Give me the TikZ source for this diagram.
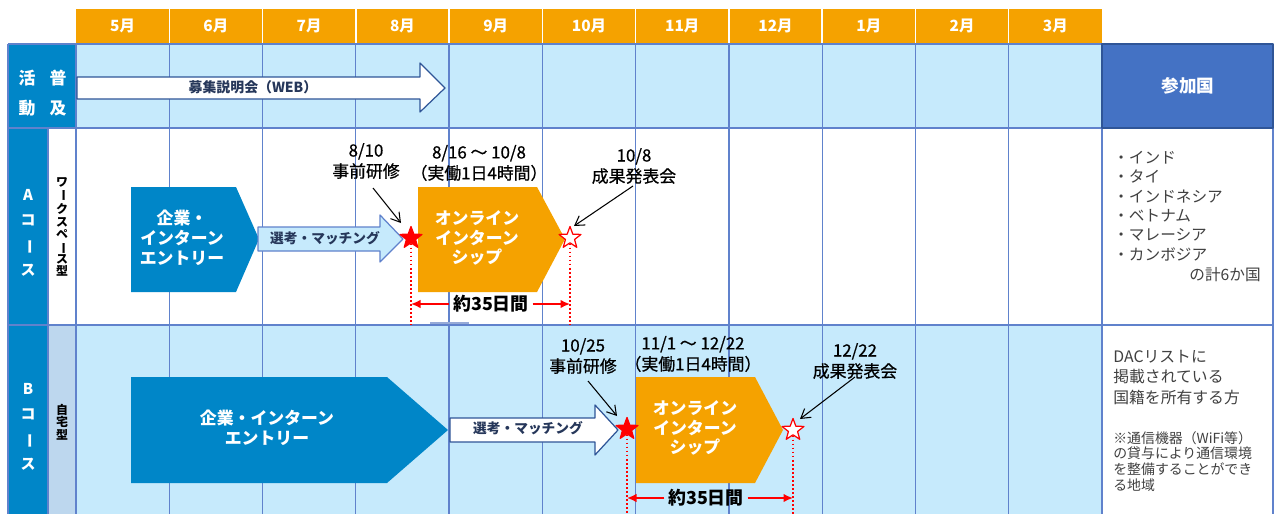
\documentclass[tikz,border=0pt]{standalone}
\usepackage{fontspec}
\setmainfont{Noto Sans CJK JP}
\newfontfamily\medfont{Noto Sans CJK JP}[FakeBold=0.7]
\usetikzlibrary{arrows.meta,shapes.geometric}
\definecolor{hdrorange}{RGB}{245,162,0}
\definecolor{cellblue}{RGB}{0,134,200}
\definecolor{paleblue}{RGB}{198,234,252}
\definecolor{gridblue}{RGB}{96,130,204}
\definecolor{headblue}{RGB}{68,114,196}
\definecolor{navyline}{RGB}{47,85,151}
\definecolor{navytxt}{RGB}{38,55,90}
\definecolor{grayblue}{RGB}{189,215,238}
\definecolor{txtgray}{RGB}{64,64,64}
\newcommand{\tatebo}{\rotatebox[origin=c]{-90}{ー}}

\begin{document}
\begin{tikzpicture}[x=0.02cm,y=-0.02cm,line join=round,
  gridline/.style={draw=gridblue,line width=0.7pt},
  wtxt/.style={text=white,font=\bfseries\fontsize{9.6}{11.3}\selectfont,align=center,inner sep=0pt},
  datelbl/.style={font=\medfont\fontsize{9.6}{11.9}\selectfont,align=center,inner sep=0pt},
  seltxt/.style={text=navytxt,font=\bfseries\fontsize{7.8}{9}\selectfont,inner sep=0pt},
  durtxt/.style={font=\bfseries\fontsize{10.2}{12}\selectfont,inner sep=2pt},
  callout/.style={-{Straight Barb[length=1.8mm,width=2.2mm]},line width=0.6pt},
  durarrow/.style={red,line width=0.9pt,-{Latex[length=1.9mm,width=1.7mm]}},
  dotline/.style={red,line width=1.1pt,dash pattern=on 1pt off 1.3pt},
  starfull/.style={star,star points=5,star point ratio=2.4,minimum size=0.46cm,inner sep=0pt,fill=red,draw=red,line width=0.7pt},
  starhollow/.style={starfull,fill=white},
  blockarr/.style={line width=0.7pt}]
\useasboundingbox (0,0) rectangle (1275,514);
% backgrounds
\fill[hdrorange] (76,9) rectangle (1102,44);
\fill[paleblue] (76,44) rectangle (1102,128);
\fill[white] (76,128) rectangle (1102,325);
\fill[paleblue] (76,325) rectangle (1102,514);
\fill[cellblue] (8,44) rectangle (76,128);
\fill[cellblue] (8,128) rectangle (48,514);
\fill[grayblue] (48,325) rectangle (76,514);
\fill[headblue] (1102,44) rectangle (1273,128);
\foreach \i in {1,...,10}
  \draw[white,line width=0.8pt] ({76+93.27*\i},9) -- ({76+93.27*\i},44);
% grid
\foreach \i in {0,...,11}
  \draw[gridline] ({76+93.27*\i},44) -- ({76+93.27*\i},514);
\draw[gridline] (8,44) -- (8,514);
\draw[gridline] (48,128) -- (48,514);
\draw[gridline] (1273,44) -- (1273,514);
\foreach \yy in {44,128,325}
  \draw[gridline] (8,\yy) -- (1273,\yy);
\draw[navyline,line width=0.8pt] (1102,44) rectangle (1273,128);
\draw[color={rgb,255:red,150;green,170;blue,215},line width=1.2pt] (430,323) -- (469,323);
% months
\foreach \m [count=\i from 0] in {5,6,7,8,9,10,11,12,1,2,3}
  \node[text=white,font=\bfseries\fontsize{8.8}{10}\selectfont] (mon\i) at ({76+93.27*(\i+0.5)},26) {\m 月};
% left labels
\node[wtxt,font=\bfseries\fontsize{9.6}{17}\selectfont] (katsu) at (27,93) {活\\動};
\node[wtxt,font=\bfseries\fontsize{9.6}{17}\selectfont] (fukyu) at (58,93) {普\\及};
\node[wtxt,font=\bfseries\fontsize{8.5}{14.2}\selectfont] (courseA) at (28,233) {A\\コ\\\tatebo\\ス};
\node[wtxt,font=\bfseries\fontsize{8.5}{14.2}\selectfont] (courseB) at (28,427) {B\\コ\\\tatebo\\ス};
\node[font=\bfseries\fontsize{6.8}{7.1}\selectfont,align=center,inner sep=0pt] (typeA) at (62,227) {ワ\\\tatebo\\ク\\ス\\ペ\\\tatebo\\ス\\型};
\node[font=\bfseries\fontsize{6.8}{7.1}\selectfont,align=center,inner sep=0pt] (typeB) at (62,422) {自\\宅\\型};
% promotion
\draw[blockarr,draw=navyline,fill=white] (77,77) -- (420,77) -- (420,63) -- (445,88) -- (420,112) -- (420,99) -- (77,99) -- cycle;
\node[seltxt,font=\bfseries\fontsize{7.9}{9}\selectfont] (bosyu) at (253,87) {募集説明会（WEB）};
% A course
\fill[cellblue] (131,187) -- (236,187) -- (259,239) -- (236,292) -- (131,292) -- cycle;
\node[wtxt] (entA) at (182,238) {企業・\\インターン\\エントリー};
\draw[blockarr,draw=gridblue,fill=paleblue] (258,227) -- (380,227) -- (380,215) -- (403,239) -- (380,262) -- (380,251) -- (258,251) -- cycle;
\node[seltxt] (selA) at (325,238) {選考・マッチング};
\fill[hdrorange] (418,187) -- (537,187) -- (565,239) -- (537,292) -- (418,292) -- cycle;
\node[wtxt] (onA) at (477,238) {オンライン\\インターン\\シップ};
\node[starfull] (sA1) at (411,238) {};
\node[starhollow] (sA2) at (570,238) {};
\coordinate (dA1) at (411,325);
\coordinate (dA2) at (570,325);
\draw[dotline] (sA1.south) -- (dA1);
\draw[dotline] (sA2.south) -- (dA2);
\node[durtxt] (durA) at (491,304) {約35日間};
\coordinate (lA) at (411,304);
\coordinate (rA) at (570,304);
\draw[durarrow] (durA.west) -- (lA);
\draw[durarrow] (durA.east) -- (rA);
\node[datelbl] (preA) at (366,161) {8/10\\事前研修};
\node[datelbl] (perA) at (479,163) {8/16 〜 10/8\\（実働1日4時間）};
\node[datelbl] (resA) at (634,166) {10/8\\成果発表会};
\draw[callout] ([shift={(7,27)}]preA.center) -- ([shift={(-10,-15)}]sA1.center);
\draw[callout] ([shift={(-1,20)}]resA.center) -- ([shift={(4,-12)}]sA2.center);
% B course
\fill[cellblue] (131,377) -- (387,377) -- (448,430) -- (387,483) -- (131,483) -- cycle;
\node[wtxt] (entB) at (267,428) {企業・インターン\\エントリー};
\draw[blockarr,draw=navyline,fill=white] (450,418) -- (595,418) -- (595,405) -- (618,430) -- (595,455) -- (595,442) -- (450,442) -- cycle;
\node[seltxt] (selB) at (528,428) {選考・マッチング};
\fill[hdrorange] (636,377) -- (755,377) -- (783,430) -- (755,483) -- (636,483) -- cycle;
\node[wtxt] (onB) at (695,428) {オンライン\\インターン\\シップ};
\node[starfull] (sB1) at (627,429) {};
\node[starhollow] (sB2) at (793,430) {};
\coordinate (dB1) at (627,514);
\coordinate (dB2) at (793,514);
\draw[dotline] (sB1.south) -- (dB1);
\draw[dotline] (sB2.south) -- (dB2);
\node[durtxt] (durB) at (706,498) {約35日間};
\coordinate (lB) at (627,498);
\coordinate (rB) at (793,498);
\draw[durarrow] (durB.west) -- (lB);
\draw[durarrow] (durB.east) -- (rB);
\node[datelbl] (preB) at (583,356) {10/25\\事前研修};
\node[datelbl] (perB) at (693,354) {11/1 〜 12/22\\（実働1日4時間）};
\node[datelbl] (resB) at (855,361) {12/22\\成果発表会};
\draw[callout] ([shift={(5,25)}]preB.center) -- ([shift={(-10,-13)}]sB1.center);
\draw[callout] ([shift={(0,16)}]resB.center) -- ([shift={(7,-11)}]sB2.center);
% participating countries
\node[text=white,font=\bfseries\fontsize{10}{12}\selectfont] (sanka) at (1188,86) {参加国};
\node[anchor=north west,align=left,text=txtgray,font=\fontsize{8.9}{11}\selectfont,inner sep=0pt] (listA) at (1113,151) {・インド\\・タイ\\・インドネシア\\・ベトナム\\・マレーシア\\・カンボジア};
\node[anchor=east,text=txtgray,font=\fontsize{8.9}{11}\selectfont,inner sep=0pt] (totalA) at (1261,275) {の計6か国};
\node[anchor=north west,align=left,text=txtgray,font=\fontsize{9}{11.6}\selectfont,inner sep=0pt] (dacB) at (1113,350) {DACリストに\\掲載されている\\国籍を所有する方};
\node[anchor=north west,align=left,text=txtgray,font=\fontsize{7.9}{8.9}\selectfont,inner sep=0pt] (noteB) at (1113,431) {※通信機器（WiFi等）\\の貸与により通信環境\\を整備することができ\\る地域};
\end{tikzpicture}
\end{document}
